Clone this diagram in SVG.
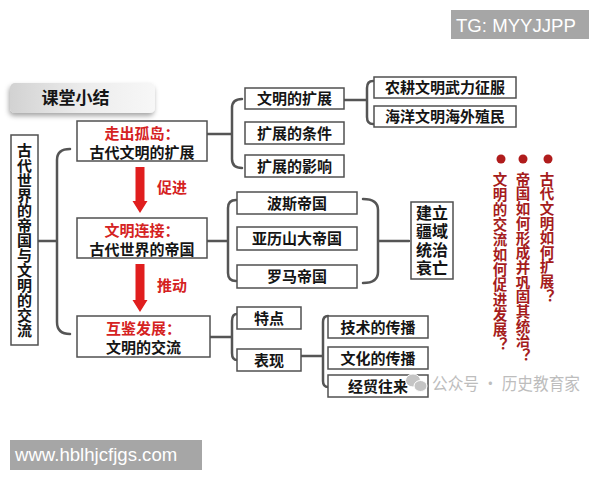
<svg xmlns="http://www.w3.org/2000/svg" width="600" height="480" viewBox="0 0 600 480">
<defs>
<style>
.bx{fill:#fff;stroke:#505050;stroke-width:1.5}
.t{font-family:"Noto Sans CJK SC","Noto Sans",sans-serif;font-weight:700;font-size:15px;fill:#151515;text-anchor:middle}
.r{fill:#d52222}
.v{font-family:"Noto Sans CJK SC",sans-serif;font-weight:700;writing-mode:vertical-rl;text-orientation:upright}
.q{font-size:14.5px;fill:#a51c1c}
.br{fill:none;stroke:#555;stroke-width:2.5;stroke-linecap:round;stroke-linejoin:round}
.arr{fill:#e01e1e}
.wm{font-family:"Liberation Sans",Arial,sans-serif;font-size:18.6px;fill:#fff}
</style>
<linearGradient id="g1" x1="0" y1="0" x2="1" y2="0">
<stop offset="0" stop-color="#d2d2d2"/>
<stop offset="0.5" stop-color="#ececec"/>
<stop offset="1" stop-color="#f7f7f7"/>
</linearGradient>
<filter id="sh" x="-10%" y="-20%" width="125%" height="160%">
<feDropShadow dx="-1" dy="3" stdDeviation="2.5" flood-color="#000" flood-opacity="0.35"/>
</filter>
</defs>
<rect width="600" height="480" fill="#fff"/>

<g id="tg">
<rect x="451" y="10" width="138" height="29" fill="#a6a6a6"/>
<text x="456" y="31.7" class="wm">TG: MYYJJPP</text>
</g>

<g id="title">
<rect x="10" y="83" width="145" height="30" rx="5" fill="url(#g1)" filter="url(#sh)"/>
<text x="75.5" y="103.5" class="t" style="font-size:17px">课堂小结</text>
</g>

<g id="connectors">
<path class="br" d="M38,241 H57 M70,149 Q57,149 57,160 V322 Q57,334 70,334"/>
<path class="br" d="M207,134 H232 M242,99 Q232,99 232,108 V159 Q232,168 242,168"/>
<path class="br" d="M344,100 H367 M373,81 Q367,81 367,88 V117 Q367,124 373,124"/>
<path class="br" d="M207,241 H228 M236,200 Q228,200 228,208 V273 Q228,281 236,281"/>
<path class="br" d="M363,199 Q378,199 378,210 V272 Q378,283 363,283 M378,241 H409"/>
<path class="br" d="M210,337 H232 M237,314 Q232,314 232,321 V353 Q232,360 237,360"/>
<path class="br" d="M301,356 H323 M328,316 Q323,316 323,322 V381 Q323,387 328,387"/>
<polygon class="arr" points="135.5,167 144.5,167 144.5,201 147.5,201 140,213 132.5,201 135.5,201"/>
<polygon class="arr" points="135.5,264 144.5,264 144.5,300 147.5,300 140,312 132.5,300 135.5,300"/>
<text x="172" y="192.5" class="t r">促进</text>
<text x="172" y="290.5" class="t r">推动</text>
</g>

<g id="root">
<rect class="bx" x="11" y="135" width="27" height="210"/>
<text x="24.5" y="143" class="v" style="font-size:15px;fill:#151515">古代世界的帝国与文明的交流</text>
</g>

<g id="n1">
<rect class="bx" x="77" y="121" width="130" height="40"/>
<text x="142" y="138.5" class="t r">走出孤岛：</text>
<text x="142" y="157.5" class="t">古代文明的扩展</text>
</g>
<g id="n2">
<rect class="bx" x="77" y="218" width="130" height="40"/>
<text x="142" y="235.5" class="t r">文明连接：</text>
<text x="142" y="254.5" class="t">古代世界的帝国</text>
</g>
<g id="n3">
<rect class="bx" x="77" y="316" width="133" height="41"/>
<text x="143.5" y="333.5" class="t r">互鉴发展：</text>
<text x="143.5" y="352.5" class="t">文明的交流</text>
</g>

<g id="n1a"><rect class="bx" x="245" y="88" width="99" height="21"/><text x="294.5" y="104" class="t">文明的扩展</text></g>
<g id="n1b"><rect class="bx" x="245" y="122" width="99" height="22"/><text x="294.5" y="138.5" class="t">扩展的条件</text></g>
<g id="n1c"><rect class="bx" x="245" y="155" width="99" height="22"/><text x="294.5" y="171.5" class="t">扩展的影响</text></g>
<g id="n1a1"><rect class="bx" x="374" y="77" width="142" height="21"/><text x="445" y="93" class="t">农耕文明武力征服</text></g>
<g id="n1a2"><rect class="bx" x="374" y="106" width="142" height="21"/><text x="445" y="122" class="t">海洋文明海外殖民</text></g>

<g id="n2a"><rect class="bx" x="237" y="192" width="120" height="22"/><text x="297" y="208.5" class="t">波斯帝国</text></g>
<g id="n2b"><rect class="bx" x="237" y="227" width="120" height="23"/><text x="297" y="244" class="t">亚历山大帝国</text></g>
<g id="n2c"><rect class="bx" x="237" y="265" width="120" height="23"/><text x="297" y="282" class="t">罗马帝国</text></g>
<g id="n2d">
<rect class="bx" x="411" y="202" width="42" height="77"/>
<text x="432" y="218.5" class="t" style="font-size:16px">建立</text>
<text x="432" y="237" class="t" style="font-size:16px">疆域</text>
<text x="432" y="255.5" class="t" style="font-size:16px">统治</text>
<text x="432" y="274" class="t" style="font-size:16px">衰亡</text>
</g>

<g id="n3a"><rect class="bx" x="237" y="307" width="64" height="22"/><text x="269" y="323.5" class="t">特点</text></g>
<g id="n3b"><rect class="bx" x="237" y="349" width="64" height="22"/><text x="269" y="365.5" class="t">表现</text></g>
<g id="n3b1"><rect class="bx" x="328" y="316" width="100" height="22"/><text x="378" y="332.5" class="t">技术的传播</text></g>
<g id="n3b2"><rect class="bx" x="328" y="347" width="100" height="22"/><text x="378" y="363.5" class="t">文化的传播</text></g>
<g id="n3b3"><rect class="bx" x="328" y="375" width="100" height="22"/><text x="378" y="391.5" class="t">经贸往来</text></g>

<g id="questions">
<circle cx="548" cy="159" r="4.5" fill="#b01c1c"/>
<circle cx="523" cy="159" r="4.5" fill="#b01c1c"/>
<circle cx="501" cy="159" r="4.5" fill="#b01c1c"/>
<text x="547" y="172" class="v q" style="letter-spacing:0.1px">古代文明如何扩展？</text>
<text x="523" y="172" class="v q" style="letter-spacing:0.2px">帝国如何形成并巩固其统治？</text>
<text x="500" y="172" class="v q" style="letter-spacing:0.5px">文明的交流如何促进发展？</text>
</g>

<g id="watermark">
<ellipse cx="413" cy="380.5" rx="7.5" ry="6.5" fill="#c4c4c4" stroke="#fff" stroke-width="1"/>
<ellipse cx="420.5" cy="386" rx="6.5" ry="5.5" fill="#c4c4c4" stroke="#fff" stroke-width="1"/>
<text x="432" y="389.5" textLength="148" lengthAdjust="spacingAndGlyphs" style="font-family:'Noto Sans CJK SC',sans-serif;font-size:17px;fill:#bdbdbd">公众号 · 历史教育家</text>
</g>

<g id="site">
<rect x="10" y="440" width="192" height="30" fill="#a6a6a6"/>
<text x="15" y="460.5" class="wm">www.hblhjcfjgs.com</text>
</g>
</svg>
